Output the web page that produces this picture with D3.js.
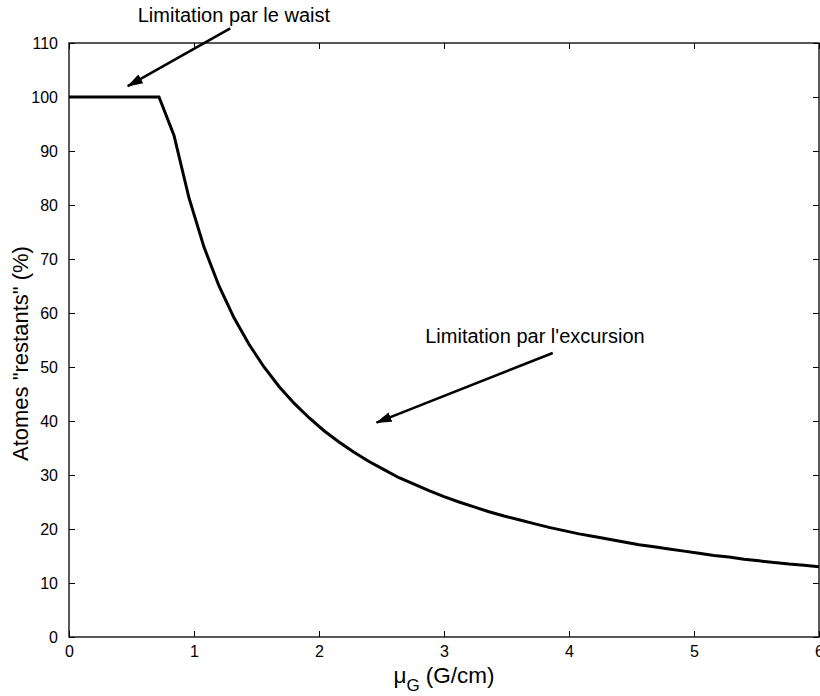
<!DOCTYPE html>
<html>
<head>
<meta charset="utf-8">
<script src="https://cdn.jsdelivr.net/npm/d3@7"></script>
<style>
  html, body { margin: 0; padding: 0; background: #fff; }
  svg { display: block; }
  text { font-family: "Liberation Sans", Arial, Helvetica, sans-serif; fill: #000; }
</style>
</head>
<body>
<svg id="chart" width="820" height="696"></svg>
<script>
// Gradient (G/cm) sampled along the x axis
const gradient = [0, 0.12, 0.24, 0.36, 0.48, 0.60, 0.72, 0.84, 0.96, 1.08, 1.20,
  1.32, 1.44, 1.56, 1.68, 1.80, 1.92, 2.04, 2.16, 2.28, 2.40, 2.52, 2.64, 2.76,
  2.88, 3.00, 3.12, 3.24, 3.36, 3.48, 3.60, 3.72, 3.84, 3.96, 4.08, 4.20, 4.32,
  4.44, 4.56, 4.68, 4.80, 4.92, 5.04, 5.16, 5.28, 5.40, 5.52, 5.64, 5.76, 5.88, 6.00];
// Remaining atoms (%) at each gradient value
const remaining = [100, 100, 100, 100, 100, 100, 100, 92.9, 81.3, 72.2, 65.0,
  59.1, 54.2, 50.0, 46.4, 43.3, 40.6, 38.2, 36.1, 34.2, 32.5, 31.0, 29.5, 28.3,
  27.1, 26.0, 25.0, 24.1, 23.2, 22.4, 21.7, 21.0, 20.3, 19.7, 19.1, 18.6, 18.1,
  17.6, 17.1, 16.7, 16.3, 15.9, 15.5, 15.1, 14.8, 14.4, 14.1, 13.8, 13.5, 13.3, 13.0];

const xTicks = [0, 1, 2, 3, 4, 5, 6];
const yTicks = [0, 10, 20, 30, 40, 50, 60, 70, 80, 90, 100, 110];

// Annotations: label text, label anchor (data units), arrow tail and head (data units)
const annotationText = ["Limitation par le waist", "Limitation par l'excursion"];
const annotationAt = [[0.55, 113.9], [2.85, 54.5]];
const arrowFrom = [[1.29, 112.7], [3.87, 52.6]];
const arrowTo = [[0.47, 102.0], [2.46, 39.7]];

const margin = { left: 69, right: 1, top: 43, bottom: 59 };
const W = 820, H = 696;
const svg = d3.select("#chart");

const x = d3.scaleLinear().domain([0, 6]).range([margin.left, W - margin.right]);
const y = d3.scaleLinear().domain([0, 110]).range([H - margin.bottom, margin.top]);

const tickLen = 6;
const fontTick = 16;

// Axes (ticks pointing inward on all four sides)
const axisStyle = g => {
  g.select(".domain").remove();
  g.selectAll(".tick line").attr("stroke", "#000").attr("stroke-width", 1);
};

svg.append("g")
  .attr("transform", `translate(0,${y(0)})`)
  .call(d3.axisBottom(x).tickValues(xTicks).tickFormat(d3.format("d"))
    .tickSizeInner(-tickLen).tickSizeOuter(0).tickPadding(tickLen + 3))
  .call(axisStyle)
  .call(g => g.selectAll("text").attr("font-size", fontTick)
    .attr("font-family", "Liberation Sans, Arial, sans-serif"));

svg.append("g")
  .attr("transform", `translate(0,${y(110)})`)
  .call(d3.axisTop(x).tickValues(xTicks).tickFormat("")
    .tickSizeInner(-tickLen).tickSizeOuter(0))
  .call(axisStyle);

svg.append("g")
  .attr("transform", `translate(${x(0)},0)`)
  .call(d3.axisLeft(y).tickValues(yTicks).tickFormat(d3.format("d"))
    .tickSizeInner(-tickLen).tickSizeOuter(0).tickPadding(tickLen + 5))
  .call(axisStyle)
  .call(g => g.selectAll("text").attr("font-size", fontTick)
    .attr("font-family", "Liberation Sans, Arial, sans-serif"));

svg.append("g")
  .attr("transform", `translate(${x(6)},0)`)
  .call(d3.axisRight(y).tickValues(yTicks).tickFormat("")
    .tickSizeInner(-tickLen).tickSizeOuter(0))
  .call(axisStyle);

// Plot box
svg.append("rect")
  .attr("x", x(0)).attr("y", y(110))
  .attr("width", x(6) - x(0)).attr("height", y(0) - y(110))
  .attr("fill", "none").attr("stroke", "#000").attr("stroke-width", 1.3);

// Curve
const line = d3.line().x((d, i) => x(gradient[i])).y(d => y(d));
svg.append("path")
  .datum(remaining)
  .attr("d", line)
  .attr("fill", "none")
  .attr("stroke", "#000")
  .attr("stroke-width", 3)
  .attr("stroke-linejoin", "miter");

// Arrow heads
svg.append("defs").append("marker")
  .attr("id", "head")
  .attr("viewBox", "0 0 16 10")
  .attr("refX", 15).attr("refY", 5)
  .attr("markerWidth", 16).attr("markerHeight", 10)
  .attr("markerUnits", "userSpaceOnUse")
  .attr("orient", "auto")
  .append("path")
  .attr("d", "M0,0 L16,5 L0,10 Z")
  .attr("fill", "#000");

annotationText.forEach((t, i) => {
  svg.append("line")
    .attr("x1", x(arrowFrom[i][0])).attr("y1", y(arrowFrom[i][1]))
    .attr("x2", x(arrowTo[i][0])).attr("y2", y(arrowTo[i][1]))
    .attr("stroke", "#000").attr("stroke-width", 2.6)
    .attr("marker-end", "url(#head)");
  svg.append("text")
    .attr("x", x(annotationAt[i][0])).attr("y", y(annotationAt[i][1]))
    .attr("font-size", 20)
    .text(t);
});

// Axis labels
const xl = svg.append("text")
  .attr("x", (x(0) + x(6)) / 2)
  .attr("y", 683)
  .attr("text-anchor", "middle")
  .attr("font-size", 22.5);
xl.append("tspan").text("\u03bc");
xl.append("tspan").attr("font-size", 17).attr("dy", 8).text("G");
xl.append("tspan").attr("dy", -8).text(" (G/cm)");

svg.append("text")
  .attr("transform", "translate(28,461) rotate(-90)")
  .attr("text-anchor", "start")
  .attr("font-size", 22)
  .text("Atomes \"restants\" (%)");
</script>
</body>
</html>
